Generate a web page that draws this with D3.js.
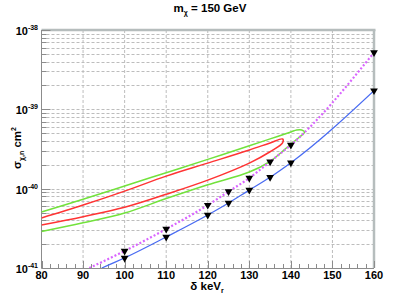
<!DOCTYPE html>
<html>
<head>
<meta charset="utf-8">
<script src="https://cdn.jsdelivr.net/npm/d3@7/dist/d3.min.js"></script>
<style>
  body { margin: 0; background: #fff; }
  svg text { font-family: "Liberation Sans", Arial, sans-serif; font-weight: bold; fill: #000; }
</style>
</head>
<body>
<div id="chart"></div>
<script>
// --- data ---
var deltaMarks   = [100, 110, 120, 125, 130, 135, 140, 160];
var sigmaMagenta = [1.64e-41, 3.1e-41, 6.2e-41, 9.2e-41, 1.36e-40, 2.19e-40, 3.55e-40, 5.2e-39];
var sigmaBlue    = [1.34e-41, 2.46e-41, 4.66e-41, 6.6e-41, 9.6e-41, 1.39e-40, 2.12e-40, 1.72e-39];
var magentaStart = [91.5, 1.0e-41];
var blueStart    = [94.5, 1.0e-41];

// contours: upper edge left->tip, then lower edge tip->left
var greenDelta = [80, 90, 100, 110, 120, 130, 135, 140, 141.4, 142.6, 143.3, 142.1, 140, 135, 130, 120, 110, 100, 90, 80];
var greenSigma = [5.08e-41, 7.36e-41, 1.08e-40, 1.59e-40, 2.34e-40, 3.47e-40, 4.24e-40, 5.19e-40, 5.49e-40, 5.5e-40, 5.2e-40, 4.48e-40, 3.66e-40, 2.21e-40, 1.62e-40, 1.12e-40, 7.5e-41, 4.93e-41, 3.71e-41, 2.88e-41];
var redDelta = [80, 90, 100, 110, 120, 130, 135, 138, 138, 135, 130, 120, 110, 100, 90, 80];
var redSigma = [4.27e-41, 6.21e-41, 9.31e-41, 1.44e-40, 2.1e-40, 3.07e-40, 3.77e-40, 4.23e-40, 3.77e-40, 2.92e-40, 2.1e-40, 1.28e-40, 8.49e-41, 5.82e-41, 4.43e-41, 3.48e-41];

var xTicks   = [80, 90, 100, 110, 120, 130, 140, 150, 160];
var yDecades = [-41, -40, -39, -38];

(function(){

    var width = 415, height = 299;
    var left = 41.5, right = 374, top = 30, bottom = 268;
    var axisCol = '#8c8c8c';
    var gridCol = '#bdbdbd';

    var svg = d3.select('#chart').append('svg')
        .attr('width', width)
        .attr('height', height);

    var x = d3.scaleLinear().domain([80, 160]).range([left, right]);
    var y = d3.scaleLog().domain([1e-41, 1e-38]).range([bottom, top]);

    svg.append('clipPath').attr('id', 'plotclip')
        .append('rect')
        .attr('x', left).attr('y', top)
        .attr('width', right - left).attr('height', bottom - top);

    // log ticks, 1..9 per decade
    var yAll = [];
    for (var d = -41; d < -38; d++) {
        for (var m = 1; m < 10; m++) yAll.push(m * Math.pow(10, d));
    }
    yAll.push(1e-38);

    // grid
    var grid = svg.append('g');
    grid.selectAll('line.gx')
        .data(xTicks.slice(1, -1))
        .enter().append('line')
        .attr('x1', function(d) { return x(d); })
        .attr('x2', function(d) { return x(d); })
        .attr('y1', top).attr('y2', bottom)
        .attr('stroke', gridCol).attr('stroke-dasharray', '3,2');
    grid.selectAll('line.gy')
        .data(yAll.slice(1, -1))
        .enter().append('line')
        .attr('y1', function(d) { return Math.round(y(d)) + 0.5; })
        .attr('y2', function(d) { return Math.round(y(d)) + 0.5; })
        .attr('x1', left).attr('x2', right)
        .attr('stroke', gridCol).attr('stroke-dasharray', '3,2');

    // frame top / right
    svg.append('line').attr('x1', left).attr('x2', right + 1.5)
        .attr('y1', top).attr('y2', top)
        .attr('stroke', '#b6bdbd').attr('stroke-width', 2.5);
    svg.append('line').attr('x1', right).attr('x2', right)
        .attr('y1', top).attr('y2', bottom)
        .attr('stroke', '#b6bdbd').attr('stroke-width', 2.5);

    // x axis
    var xMinor = d3.range(80, 161, 2);
    svg.append('line').attr('x1', left).attr('x2', right)
        .attr('y1', bottom + 0.5).attr('y2', bottom + 0.5)
        .attr('stroke', axisCol);
    svg.selectAll('line.tx')
        .data(xMinor)
        .enter().append('line')
        .attr('x1', function(d) { return Math.round(x(d)) + 0.5; })
        .attr('x2', function(d) { return Math.round(x(d)) + 0.5; })
        .attr('y1', bottom)
        .attr('y2', function(d) { return d % 10 === 0 ? bottom - 7 : bottom - 4; })
        .attr('stroke', axisCol);
    svg.selectAll('text.xl')
        .data(xTicks)
        .enter().append('text')
        .attr('x', function(d) { return x(d); })
        .attr('y', 279)
        .attr('text-anchor', 'middle')
        .attr('font-size', 11)
        .text(function(d) { return d; });

    // y axis
    svg.append('line').attr('x1', left).attr('x2', left)
        .attr('y1', top).attr('y2', bottom)
        .attr('stroke', axisCol);
    svg.selectAll('line.ty')
        .data(yAll)
        .enter().append('line')
        .attr('y1', function(d) { return Math.round(y(d)) + 0.5; })
        .attr('y2', function(d) { return Math.round(y(d)) + 0.5; })
        .attr('x1', left)
        .attr('x2', function(d, i) { return i % 9 === 0 ? left + 9 : left + 5; })
        .attr('stroke', axisCol);
    var yl = svg.selectAll('text.yl')
        .data(yDecades)
        .enter().append('text')
        .attr('x', 38)
        .attr('y', function(d) { return y(Math.pow(10, d)) + 5; })
        .attr('text-anchor', 'end')
        .attr('font-size', 11);
    yl.append('tspan').text('10');
    yl.append('tspan').attr('dy', -5).attr('font-size', 7)
        .text(function(d) { return '-' + Math.abs(d); });

    // titles
    var t = svg.append('text').attr('x', 210).attr('y', 12)
        .attr('text-anchor', 'middle').attr('font-size', 11.5);
    t.append('tspan').text('m');
    t.append('tspan').attr('dy', 3).attr('font-size', 7).text('\u03c7');
    t.append('tspan').attr('dy', -3).text(' = 150 GeV');

    var xt = svg.append('text').attr('x', 207).attr('y', 290)
        .attr('text-anchor', 'middle').attr('font-size', 11.5);
    xt.append('tspan').text('\u03b4 keV');
    xt.append('tspan').attr('dy', 3).attr('font-size', 7).text('r');

    var yt = svg.append('text')
        .attr('transform', 'translate(21,148) rotate(-90)')
        .attr('text-anchor', 'middle').attr('font-size', 11.5);
    yt.append('tspan').text('\u03c3');
    yt.append('tspan').attr('dy', 3).attr('font-size', 7).text('\u03c7,n');
    yt.append('tspan').attr('dy', -3).text(' cm');
    yt.append('tspan').attr('dy', -5).attr('font-size', 7).text('2');

    // curves
    var plot = svg.append('g').attr('clip-path', 'url(#plotclip)');
    var line = d3.line()
        .x(function(d) { return x(d[0]); })
        .y(function(d) { return y(d[1]); });

    var greenPts = d3.zip(greenDelta, greenSigma);
    var redPts = d3.zip(redDelta, redSigma);
    plot.append('path').datum(greenPts)
        .attr('d', line.curve(d3.curveCatmullRom.alpha(0.5)))
        .attr('fill', 'none').attr('stroke', '#72e23c').attr('stroke-width', 1.5);
    plot.append('path').datum(redPts)
        .attr('d', line.curve(d3.curveCatmullRom.alpha(0.5)))
        .attr('fill', 'none').attr('stroke', '#ff3434').attr('stroke-width', 1.5);

    var magPts = [magentaStart].concat(d3.zip(deltaMarks, sigmaMagenta));
    var bluePts = [blueStart].concat(d3.zip(deltaMarks, sigmaBlue));
    plot.append('path').datum(magPts)
        .attr('d', line.curve(d3.curveMonotoneX))
        .attr('fill', 'none').attr('stroke', '#d966ff')
        .attr('stroke-width', 2.2).attr('stroke-dasharray', '2,2');
    plot.append('path').datum(bluePts)
        .attr('d', line.curve(d3.curveMonotoneX))
        .attr('fill', 'none').attr('stroke', '#4a6cf2').attr('stroke-width', 1.3);

    // markers
    var tri = d3.symbol().type(d3.symbolTriangle).size(26);
    var marks = d3.zip(deltaMarks, sigmaMagenta).concat(d3.zip(deltaMarks, sigmaBlue));
    svg.selectAll('path.mk')
        .data(marks)
        .enter().append('path')
        .attr('d', tri)
        .attr('transform', function(d) {
            return 'translate(' + x(d[0]) + ',' + y(d[1]) + ') rotate(180)';
        })
        .attr('fill', '#000');

})();
</script>
</body>
</html>
